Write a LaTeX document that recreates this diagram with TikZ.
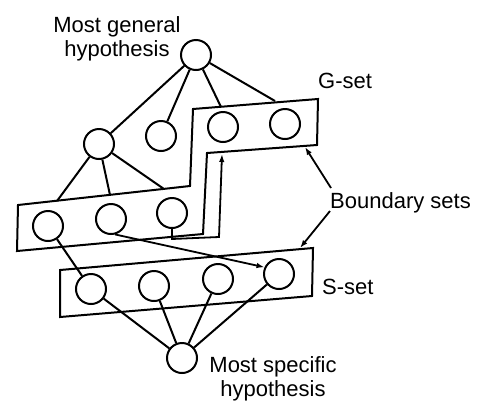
\documentclass[tikz,border=0pt]{standalone}
\usepackage{fontspec}
\setmainfont{Liberation Sans}
\usetikzlibrary{arrows.meta}
\begin{document}
\begin{tikzpicture}[x=1pt,y=-1pt,
  hyp/.style={circle,draw,line width=2pt,minimum size=30pt,inner sep=0pt,fill=white},
  ln/.style={line width=2pt},
  bx/.style={line width=2pt,line join=miter},
  arr/.style={line width=1.8pt,-{Latex[length=8pt,width=5.5pt]}},
  lbl/.style={font=\fontsize{22}{24}\selectfont,align=center,inner sep=0pt}]
\useasboundingbox (0,0) rectangle (486,405);
% boundary boxes
\draw[bx] (18,205) -- (190,186) -- (193,109) -- (318,99) -- (317,145) -- (207,153) -- (203,234) -- (17,251) -- cycle;
\draw[bx] (60,270) -- (313,248) -- (312,296) -- (60,317) -- cycle;
% nodes
\node[hyp] (T) at (196,55) {};
\node[hyp] (A) at (99,144) {};
\node[hyp] (B) at (161,136) {};
\node[hyp] (C) at (223,127) {};
\node[hyp] (D) at (285,124) {};
\node[hyp] (L1) at (48,226) {};
\node[hyp] (L2) at (111,219) {};
\node[hyp] (L3) at (172,213) {};
\node[hyp] (S1) at (91,289) {};
\node[hyp] (S2) at (154,286) {};
\node[hyp] (S3) at (218,279) {};
\node[hyp] (S4) at (279,274) {};
\node[hyp] (M) at (182,358) {};
% edge end points on box borders
\coordinate (gC) at (221,107);
\coordinate (gD) at (275,101);
\coordinate (g1) at (57,201);
\coordinate (g2) at (110,195);
\coordinate (g3) at (164,189);
\coordinate (k1) at (172,239);
\coordinate (k2) at (219,237);
\coordinate (gCb) at (222,154);
% edges
\draw[ln] (T) -- (A);
\draw[ln] (T) -- (B);
\draw[ln] (T) -- (gC);
\draw[ln] (T) -- (gD);
\draw[ln] (A) -- (g1);
\draw[ln] (A) -- (g2);
\draw[ln] (A) -- (g3);
\draw[ln] (L1) -- (S1);
\draw[ln] (S1) -- (M);
\draw[ln] (S2) -- (M);
\draw[ln] (S3) -- (M);
\draw[ln] (S4) -- (M);
\draw[arr] (L2.-75) -- (S4.155);
\draw[arr,line join=miter] (L3) -- (k1) -- (k2) -- (gCb);
% labels
\node[lbl] (gen) at (117,39) {Most general\\hypothesis};
\node[lbl,anchor=base west] (gset) at (318,88) {G-set};
\node[lbl,anchor=base west] (bnd) at (330,208) {Boundary sets};
\node[lbl,anchor=base west] (sset) at (322,294) {S-set};
\node[lbl,anchor=north] (spec) at (273,356) {Most specific\\hypothesis};
\coordinate (b1) at (331,188);
\coordinate (b2) at (330,211);
\coordinate (tg) at (305,147);
\coordinate (ts) at (300,248);
\draw[arr] (b1) -- (tg);
\draw[arr] (b2) -- (ts);
\end{tikzpicture}
\end{document}
